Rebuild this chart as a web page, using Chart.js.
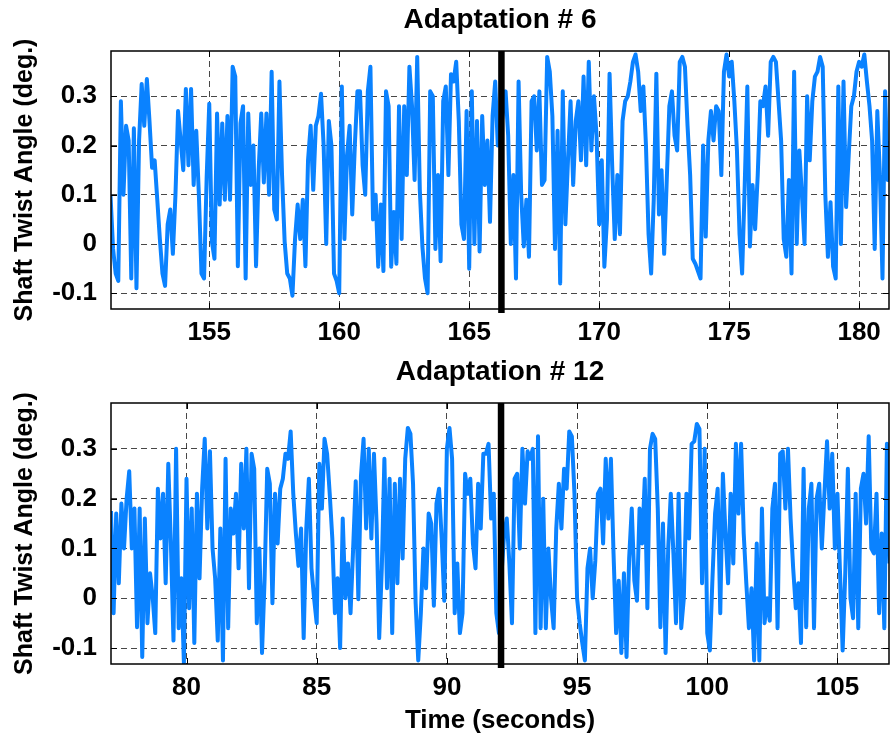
<!DOCTYPE html>
<html>
<head>
<meta charset="utf-8">
<script src="https://cdn.jsdelivr.net/npm/chart.js@4/dist/chart.umd.min.js"></script>
<style>
  body { margin: 0; background: #fff; }
  #page { position: relative; width: 890px; height: 743px; }
  .panel { position: absolute; left: 0; width: 890px; }
</style>
</head>
<body>
<div id="page">
  <div class="panel" style="top:0;height:350px"><canvas id="adapt-6" width="890" height="350"></canvas></div>
  <div class="panel" style="top:352px;height:391px"><canvas id="adapt-12" width="890" height="391"></canvas></div>
</div>
<script>
// sample spacing of the logged twist angle (seconds)
const sampleStep = 0.1

// Adaptation # 6
const start6 = 151.2
const switch6 = 166.24
const xRange6 = [151.22, 181.15]
const xTicks6 = [155, 160, 165, 170, 175, 180]
const twist6 = [
  0.10, -0.01, -0.06, -0.075, 0.29, 0.10, 0.24, 0.21, -0.07, 0.235,
  -0.09, 0.21, 0.325, 0.24, 0.335, 0.25, 0.155, 0.17, 0.09, 0.01,
  -0.06, -0.085, 0.04, 0.07, -0.02, 0.10, 0.27, 0.21, 0.15, 0.315,
  0.16, 0.315, 0.12, 0.23, 0.10, -0.06, -0.07, 0.135, 0.285, 0.005,
  -0.03, 0.265, 0.08, 0.245, 0.09, 0.26, 0.09, 0.36, 0.34, -0.045,
  0.245, 0.28, -0.07, 0.265, 0.12, 0.20, -0.045, 0.15, 0.265, 0.125,
  0.265, 0.10, 0.35, 0.07, 0.05, 0.33, 0.14, 0.005, -0.06, -0.07,
  -0.105, 0.01, 0.08, 0.01, 0.09, -0.045, 0.17, 0.24, 0.11, 0.24,
  0.26, 0.305, 0.20, 0.0, 0.25, 0.20, -0.06, -0.075, -0.10, 0.32,
  0.01, 0.18, 0.24, 0.06, 0.20, 0.31, 0.31, 0.16, 0.10, 0.31,
  0.36, 0.05, 0.10, -0.046, 0.08, -0.055, 0.31, 0.28, -0.046, 0.065,
  -0.04, 0.28, 0.01, 0.28, 0.14, 0.36, 0.28, 0.13, 0.38, 0.11,
  -0.005, -0.07, -0.10, 0.31, 0.30, -0.01, 0.14, -0.035, 0.29, 0.32,
  0.14, 0.345, 0.33, 0.37, 0.25, 0.04, 0.01, 0.27, -0.05, 0.31,
  0.0, 0.25, -0.015, 0.26, 0.12, 0.21, 0.045, 0.26, 0.33, 0.20,
  0.22, 0.27, 0.31, 0.22, 0.0, 0.14, -0.07, 0.33, 0.10, -0.005,
  0.09, -0.026, 0.29, 0.30, 0.19, 0.31, 0.12, 0.13, 0.38, 0.35,
  0.26, -0.01, 0.23, -0.08, 0.31, 0.04, 0.17, 0.29, 0.12, 0.25,
  0.29, 0.17, 0.34, 0.16, 0.37, 0.19, 0.30, 0.22, 0.04, 0.17,
  -0.046, 0.05, 0.346, 0.16, 0.01, 0.14, 0.02, 0.25, 0.29, 0.30,
  0.33, 0.37, 0.385, 0.35, 0.27, 0.32, 0.20, 0.02, -0.06, 0.09,
  0.346, 0.06, 0.15, -0.02, 0.13, 0.28, 0.31, 0.22, 0.19, 0.37,
  0.38, 0.36, 0.24, 0.14, -0.03, -0.04, -0.055, -0.07, 0.20, 0.015,
  0.21, 0.27, 0.21, 0.28, 0.27, 0.14, 0.35, 0.385, 0.34, 0.37,
  0.29, 0.19, 0.02, -0.06, 0.12, 0.32, -0.005, 0.12, 0.03, 0.14,
  0.29, 0.28, 0.32, 0.22, 0.37, 0.38, 0.37, 0.29, 0.21, 0.01,
  -0.026, 0.13, -0.06, 0.35, 0.0, 0.19, 0.10, 0.0, 0.30, 0.17,
  0.29, 0.34, 0.35, 0.38, 0.36, 0.10, -0.026, 0.085, -0.046, -0.07,
  0.32, 0.0, 0.33, 0.075, 0.18, 0.28, 0.30, 0.35, 0.37, 0.36,
  0.385, 0.33, 0.28, 0.21, -0.01, 0.27, 0.14, -0.07, 0.31, 0.13,
  0.21
]

// Adaptation # 12
const start12 = 77.1
const switch12 = 92.08
const xRange12 = [77.1, 106.98]
const xTicks12 = [80, 85, 90, 95, 100, 105]
const twist12 = [
  0.175, -0.03, 0.17, 0.03, 0.19, 0.10, 0.20, 0.255, 0.10, 0.18,
  -0.058, 0.18, -0.118, 0.16, -0.05, 0.05, 0.003, -0.07, 0.22, 0.12,
  0.21, 0.03, 0.27, 0.11, -0.085, 0.30, -0.06, 0.04, -0.13, 0.24,
  -0.02, 0.18, -0.09, 0.21, 0.04, 0.22, 0.32, 0.14, 0.295, 0.10,
  0.04, -0.085, 0.14, -0.125, 0.28, -0.06, 0.18, 0.13, 0.21, 0.06,
  0.27, 0.14, 0.30, 0.02, 0.29, 0.26, -0.05, 0.10, -0.11, 0.04,
  0.26, 0.23, -0.01, 0.21, 0.11, 0.22, 0.24, 0.29, 0.28, 0.335,
  0.21, 0.13, 0.065, 0.14, -0.08, 0.14, 0.24, 0.06, 0.0, -0.05,
  0.27, 0.18, 0.32, 0.29, 0.21, 0.12, -0.03, 0.04, -0.10, 0.16,
  0.0, 0.07, -0.03, 0.10, 0.235, -0.002, 0.245, 0.32, 0.14, 0.30,
  0.12, 0.29, 0.15, -0.08, 0.06, 0.28, 0.02, 0.24, -0.07, 0.23,
  0.03, 0.24, 0.08, 0.28, 0.342, 0.33, 0.23, -0.01, -0.125, -0.03,
  0.10, 0.02, 0.17, 0.15, -0.015, 0.19, 0.22, 0.12, -0.005, 0.30,
  0.342, 0.28, -0.03, 0.07, -0.07, -0.03, 0.25, 0.21, 0.24, 0.11,
  0.06, 0.23, 0.14, 0.29, 0.29, 0.31, 0.16, 0.21, -0.03, -0.07,
  0.05, 0.13, 0.16, 0.07, -0.05, 0.24, 0.25, 0.10, 0.30, 0.19,
  0.295, 0.28, 0.30, -0.07, 0.325, -0.06, 0.20, -0.06, 0.10, 0.0,
  -0.06, 0.14, 0.23, 0.14, 0.26, 0.22, 0.335, 0.325, 0.21, 0.0,
  -0.05, -0.09, -0.125, 0.06, 0.10, 0.0, 0.075, 0.21, 0.22, 0.11,
  0.28, 0.16, 0.28, 0.09, -0.07, 0.035, -0.11, 0.05, -0.118, 0.08,
  0.18, 0.035, -0.005, 0.18, 0.11, 0.24, -0.02, 0.30, 0.33, 0.32,
  0.18, -0.058, 0.15, -0.11, 0.10, 0.21, 0.09, -0.05, 0.21, -0.06,
  0.0, 0.21, 0.12, 0.31, 0.315, 0.35, 0.34, 0.03, 0.30, -0.07,
  -0.105, 0.04, 0.17, 0.22, -0.03, 0.25, 0.13, 0.03, 0.21, 0.07,
  0.31, 0.17, 0.31, 0.13, 0.03, -0.06, 0.02, -0.125, 0.11, -0.125,
  0.18, -0.05, 0.0, -0.045, 0.18, 0.23, -0.06, 0.29, 0.295, 0.18,
  0.30, 0.16, 0.06, -0.02, 0.03, -0.09, 0.26, -0.058, 0.18, 0.23,
  -0.06, 0.20, 0.23, 0.10, 0.21, 0.315, 0.18, 0.29, 0.10, 0.21,
  0.05, -0.105, 0.05, 0.26, 0.0, -0.04, 0.21, -0.06, 0.22, 0.25,
  0.15, 0.325, 0.10, 0.09, 0.21, -0.03, 0.13, -0.06, 0.31, 0.07
]

const yRange = [-0.132, 0.392]
const yTicks = [-0.1, 0, 0.1, 0.2, 0.3]

const FONT = '"Liberation Sans", Arial, sans-serif'
const lineBlue = '#0a82ff'

// box + inward tick marks like a matlab axes
const framePlugin = {
  id: 'frame',
  afterDraw(chart) {
    const { ctx, chartArea: a, scales: { x, y } } = chart
    ctx.save()
    ctx.strokeStyle = '#000'
    ctx.lineWidth = 1.5
    ctx.strokeRect(a.left, a.top, a.right - a.left, a.bottom - a.top)
    ctx.lineWidth = 1
    ctx.beginPath()
    x.ticks.forEach(t => {
      const px = Math.round(x.getPixelForValue(t.value)) + 0.5
      ctx.moveTo(px, a.bottom); ctx.lineTo(px, a.bottom - 6)
      ctx.moveTo(px, a.top); ctx.lineTo(px, a.top + 6)
    })
    y.ticks.forEach(t => {
      const py = Math.round(y.getPixelForValue(t.value)) + 0.5
      ctx.moveTo(a.left, py); ctx.lineTo(a.left + 6, py)
      ctx.moveTo(a.right, py); ctx.lineTo(a.right - 6, py)
    })
    ctx.stroke()
    ctx.restore()
  }
}

function makeChart(id, title, values, t0, switchTime, xRange, xTicks, xHeight, showTimeLabel) {
  const points = values.map((v, i) => ({ x: t0 + i * sampleStep, y: v }))

  new Chart(document.getElementById(id), {
    type: 'line',
    data: {
      datasets: [{
        data: [{ x: switchTime, y: yRange[0] - 0.008 }, { x: switchTime, y: yRange[1] }],
        borderColor: '#000',
        borderWidth: 6.5,
        pointRadius: 0,
        clip: { left: 0, top: 0, right: 0, bottom: 5 }
      }, {
        data: points,
        borderColor: lineBlue,
        borderWidth: 4,
        borderJoinStyle: 'round',
        pointRadius: 0,
        tension: 0
      }]
    },
    options: {
      responsive: false,
      animation: false,
      layout: { padding: { left: 0, right: 1, top: 0, bottom: 0 } },
      plugins: {
        legend: { display: false },
        tooltip: { enabled: false },
        title: {
          display: true,
          fullSize: false,
          text: title,
          color: '#000',
          font: { family: FONT, size: 28, weight: 'bold' },
          padding: { top: 3, bottom: 14.4 }
        }
      },
      scales: {
        x: {
          type: 'linear',
          min: xRange[0],
          max: xRange[1],
          afterBuildTicks: s => { s.ticks = xTicks.map(v => ({ value: v })) },
          afterFit: s => { s.height = xHeight },
          grid: { color: 'rgba(0,0,0,0.72)', lineWidth: 1, drawTicks: false },
          border: { display: false, dash: [6, 4] },
          ticks: {
            color: '#000',
            padding: 8,
            maxRotation: 0,
            font: { family: FONT, size: 26, weight: 'bold' },
            callback: v => String(v)
          },
          title: {
            display: showTimeLabel,
            text: 'Time (seconds)',
            color: '#000',
            font: { family: FONT, size: 26, weight: 'bold' },
            padding: { top: 0, bottom: 7 }
          }
        },
        y: {
          min: yRange[0],
          max: yRange[1],
          afterBuildTicks: s => { s.ticks = yTicks.map(v => ({ value: v })) },
          afterFit: s => { s.width = 111 },
          grid: { color: 'rgba(0,0,0,0.72)', lineWidth: 1, drawTicks: false },
          border: { display: false, dash: [6, 4] },
          ticks: {
            color: '#000',
            padding: 14,
            font: { family: FONT, size: 26, weight: 'bold' },
            callback: v => String(+v.toFixed(1))
          },
          title: {
            display: true,
            text: 'Shaft Twist Angle (deg.)',
            color: '#000',
            font: { family: FONT, size: 25, weight: 'bold' },
            padding: { top: 10, bottom: 0 }
          }
        }
      }
    },
    plugins: [framePlugin]
  })
}

makeChart('adapt-6', 'Adaptation # 6', twist6, start6, switch6, xRange6, xTicks6, 41, false)
makeChart('adapt-12', 'Adaptation # 12', twist12, start12, switch12, xRange12, xTicks12, 79, true)
</script>
</body>
</html>
